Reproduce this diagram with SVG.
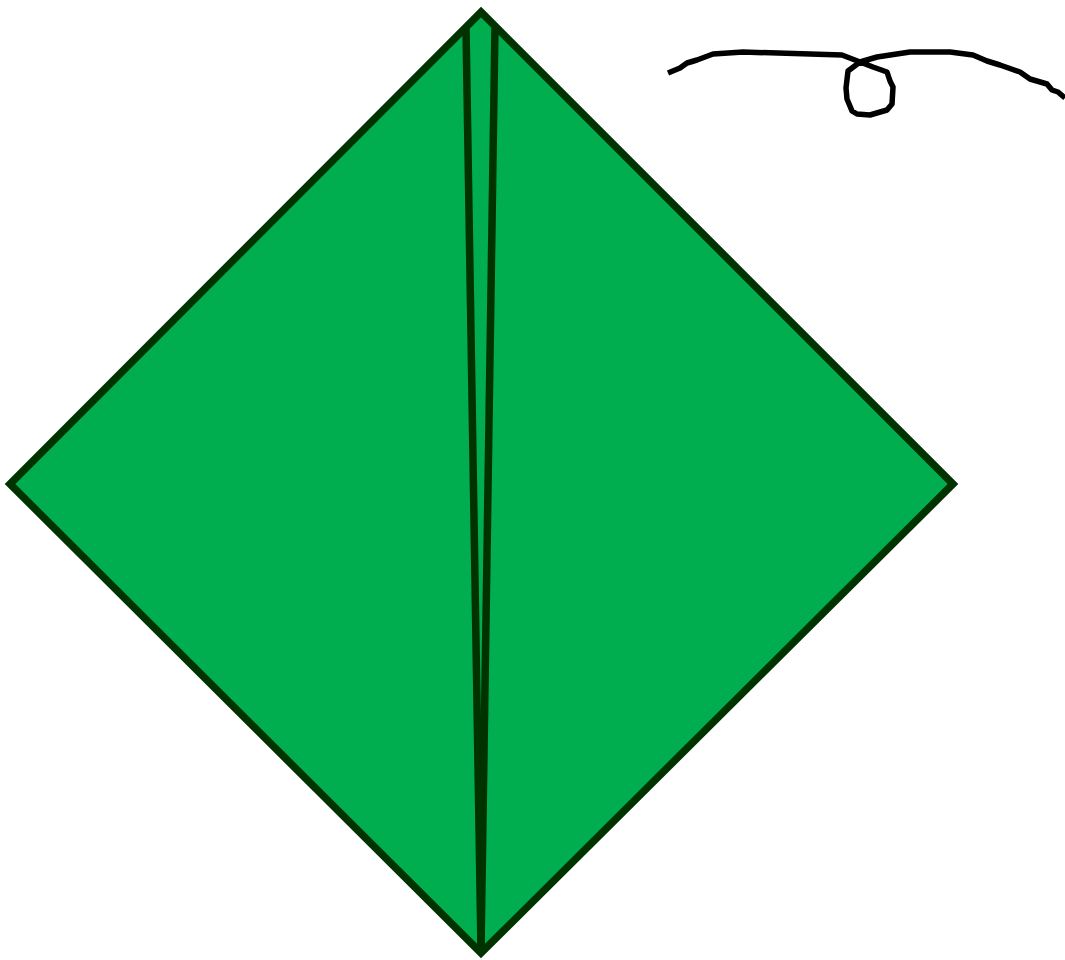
<svg xmlns="http://www.w3.org/2000/svg" width="1065" height="960" viewBox="0 0 1065 960">
<style>
.edge{fill:none;stroke:#003300;stroke-width:7.5;stroke-linejoin:miter}
.scribble{fill:none;stroke:#000;stroke-width:5.5;stroke-linejoin:round}
</style>
<rect width="1065" height="960" fill="#fff"/>
<g id="diamond">
<polygon points="481,12 953,484 481,953 10,484" fill="#00AE4F" stroke="#003300" stroke-width="7.5" stroke-linejoin="miter"/>
</g>
<g id="folds">
<polyline class="edge" points="466,27 481,950"/>
<polyline class="edge" points="495,26 481,950"/>
</g>
<g id="scribble">
<polyline class="scribble" points="668,73 680,68 687,63 697,60 713,54 743,52 842,55 860,62 873,67 887,72 890,81 893,87 892,104 887,110 870,115 857,114 852,111 847,99 846,88 848,71 860,62 877,57 910,52 950,52 973,55 987,61 1000,65 1020,72 1030,79 1047,84 1052,90 1058,92 1065,98"/>
</g>
</svg>
